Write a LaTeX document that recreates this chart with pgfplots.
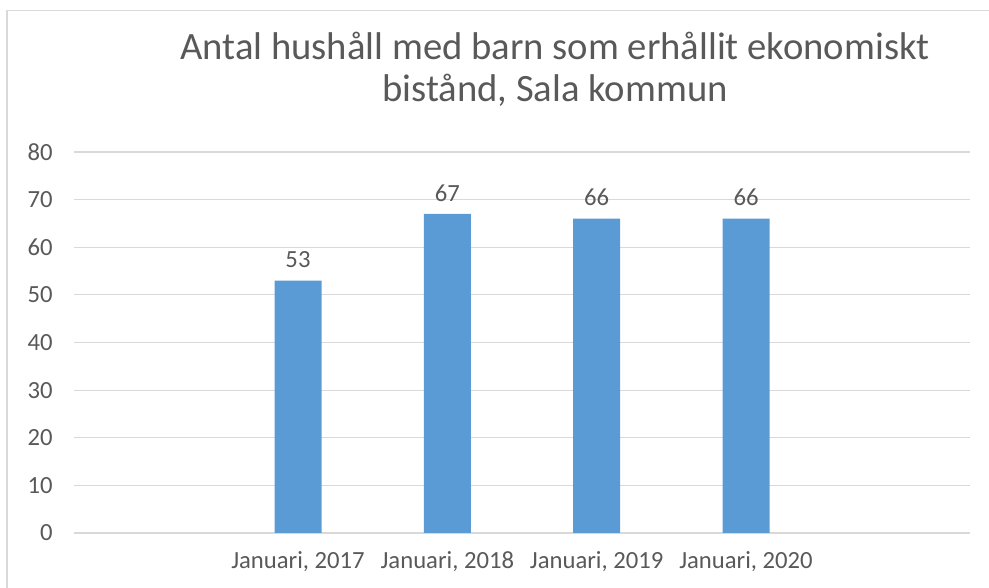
\documentclass[border=0pt]{standalone}
\usepackage{fontspec}
\setmainfont{Carlito}
\usepackage{pgfplots}
\pgfplotsset{compat=1.18}
\definecolor{barblue}{HTML}{5B9BD5}
\definecolor{txtgrey}{HTML}{595959}
\definecolor{gridgrey}{HTML}{D9D9D9}
\begin{document}
\begin{tikzpicture}
\useasboundingbox (-55.5pt,-41.25pt) rectangle (686.25pt,399.75pt);
\fill[gridgrey] (-50.75pt,-41.25pt) rectangle (-49.75pt,392.4pt);
\fill[gridgrey] (-50.75pt,391.4pt) rectangle (686.25pt,392.4pt);
\node[text=txtgrey, font=\fontsize{29}{31.5}\selectfont, align=center] at (360.75pt,348pt) {Antal hushåll med barn som erhållit ekonomiskt\\bistånd, Sala kommun};
\begin{axis}[
  at={(0pt,0pt)}, anchor=south west,
  scale only axis, width=672pt, height=285.75pt,
  xmin=-0.5, xmax=5.5, ymin=0, ymax=80,
  axis lines=left,
  xtick={1,2,3,4},
  xticklabels={{Januari, 2017},{Januari, 2018},{Januari, 2019},{Januari, 2020}},
  ytick={0,10,...,80},
  ymajorgrids, grid style={gridgrey, line width=0.9pt},
  axis line style={draw=none},
  major tick length=0pt,
  tick label style={text=txtgrey, font=\fontsize{18.5}{22}\selectfont},
  /pgf/number format/assume math mode=true,
  yticklabel style={xshift=-12.5pt},
  xticklabel style={yshift=-10pt},
  clip=false,
]
\addplot[ybar, bar width=35.25pt, fill=barblue, draw=none,
  nodes near coords,
  every node near coord/.append style={text=txtgrey, font=\fontsize{18.5}{22}\selectfont, yshift=6pt}]
  coordinates {(1,53) (2,67) (3,66) (4,66)};
\end{axis}
\end{tikzpicture}
\end{document}
